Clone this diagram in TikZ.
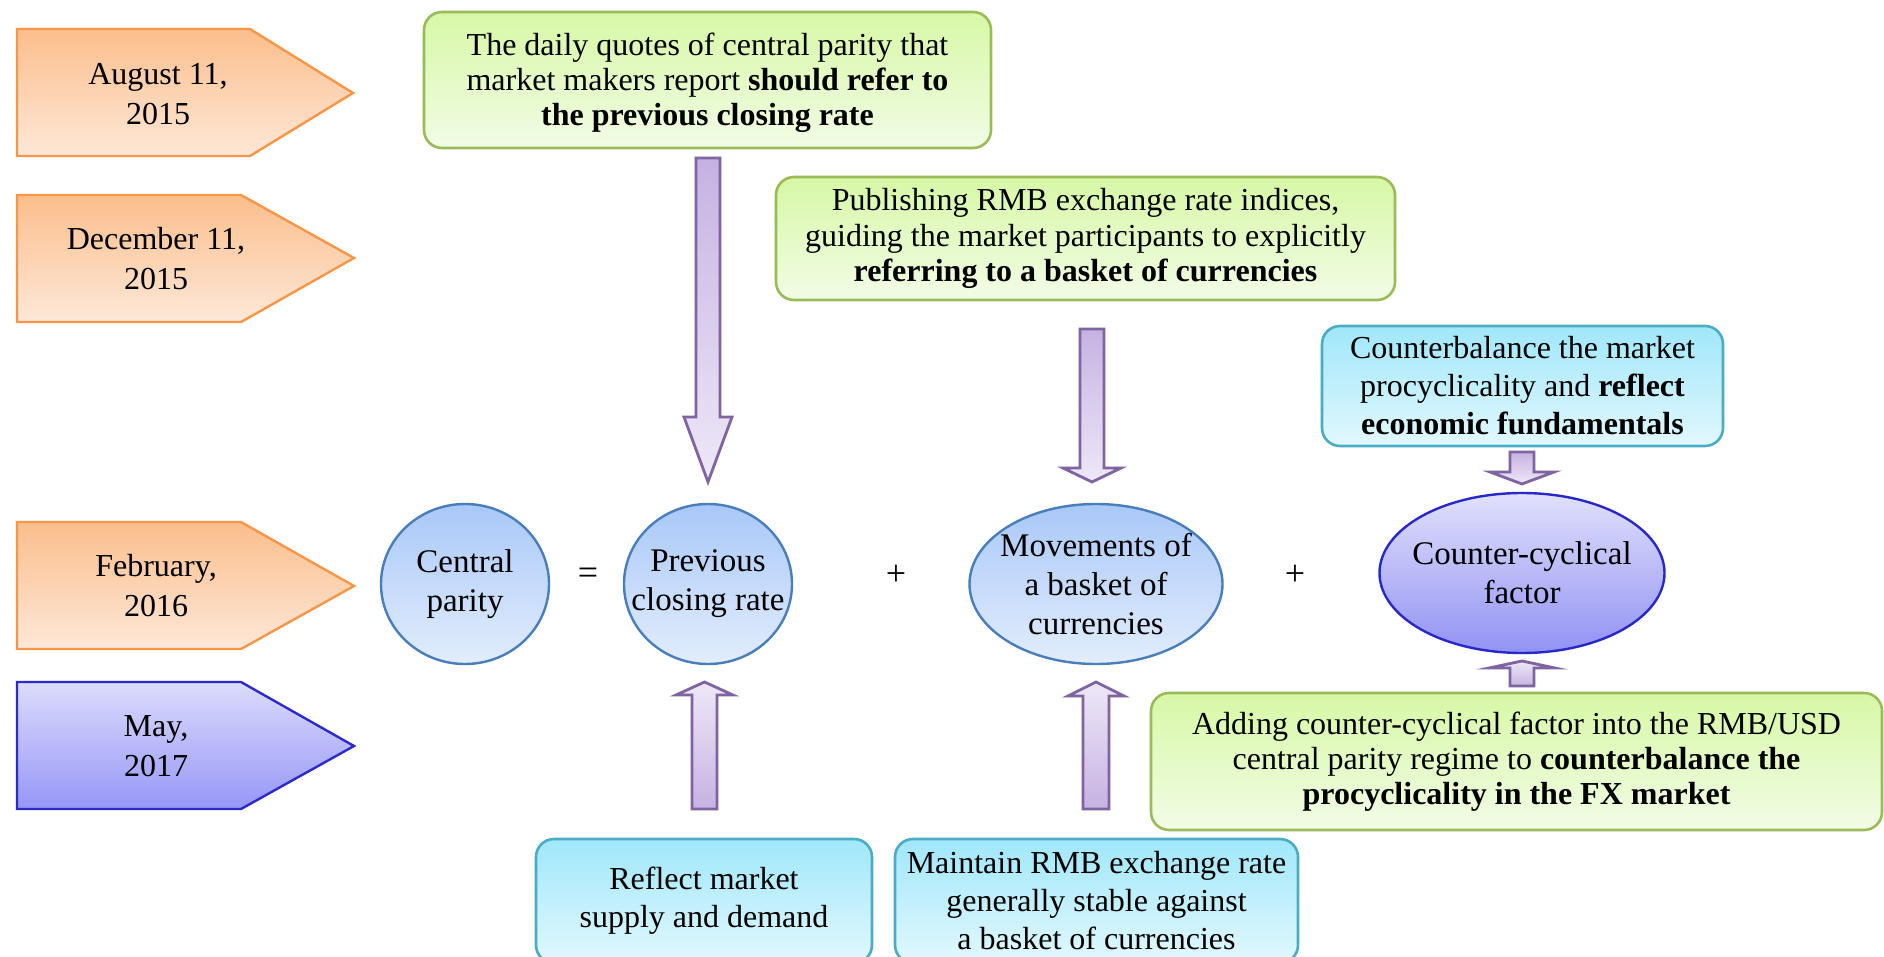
\documentclass[tikz,border=0pt]{standalone}
\usepackage{fontspec}
\setmainfont{Liberation Serif}
\usetikzlibrary{shapes.geometric}
\definecolor{orgB}{HTML}{F79646}
\definecolor{orgT}{HTML}{FBBE8C}
\definecolor{orgL}{HTML}{FDE8D8}
\definecolor{mayB}{HTML}{2B2BCC}
\definecolor{mayT}{HTML}{DCDCFC}
\definecolor{mayL}{HTML}{9696F6}
\definecolor{cirB}{HTML}{4A7EBB}
\definecolor{cirT}{HTML}{A9C8F8}
\definecolor{cirL}{HTML}{E2EDFC}
\definecolor{ccfB}{HTML}{2828C8}
\definecolor{ccfT}{HTML}{E0E0FC}
\definecolor{ccfL}{HTML}{9292F4}
\definecolor{grnB}{HTML}{9BBB59}
\definecolor{grnT}{HTML}{D7F8A6}
\definecolor{grnL}{HTML}{F2FCE6}
\definecolor{cyaB}{HTML}{4BACC6}
\definecolor{cyaT}{HTML}{A0E7FA}
\definecolor{cyaL}{HTML}{E2F8FE}
\definecolor{arrB}{HTML}{8064A2}
\definecolor{arrD}{HTML}{C6B2E2}
\definecolor{arrL}{HTML}{EEE8F7}
\newcommand{\blkdown}[6]{%
  \path[arrdn] (#1,#3) -- (#2,#3) -- (#2,#4) -- ({#2+#5},#4) -- ({(#1+#2)/2},#6) -- ({#1-#5},#4) -- (#1,#4) -- cycle;}
\newcommand{\blkup}[6]{%
  \path[arrup] (#1,#3) -- (#2,#3) -- (#2,#4) -- ({#2+#5},#4) -- ({(#1+#2)/2},#6) -- ({#1-#5},#4) -- (#1,#4) -- cycle;}
\begin{document}
\begin{tikzpicture}[x=0.5pt,y=-0.5pt,
  font=\fontsize{16}{17.6}\selectfont,
  txt/.style={align=center, inner sep=0pt},
  optxt/.style={inner sep=0pt, font=\fontsize{18}{20}\selectfont},
  datetxt/.style={align=center, inner sep=0pt, font=\fontsize{16}{20}\selectfont},
  orgshape/.style={draw=orgB, line width=1.2pt, top color=orgT, bottom color=orgL},
  mayshape/.style={draw=mayB, line width=1.2pt, top color=mayT, bottom color=mayL},
  circshape/.style={ellipse, draw=cirB, line width=1.2pt, top color=cirT, bottom color=cirL, inner sep=0pt},
  ccfshape/.style={ellipse, draw=ccfB, line width=1.2pt, top color=ccfT, bottom color=ccfL, inner sep=0pt},
  gbox/.style={draw=grnB, line width=1.3pt, rounded corners=9pt, top color=grnT, bottom color=grnL, align=center, inner sep=0pt},
  cbox/.style={draw=cyaB, line width=1.3pt, rounded corners=9pt, top color=cyaT, bottom color=cyaL, align=center, inner sep=0pt},
  arrdn/.style={draw=arrB, line width=1.4pt, top color=arrD, bottom color=arrL, miter limit=10},
  arrup/.style={draw=arrB, line width=1.4pt, top color=arrL, bottom color=arrD, miter limit=10}]
\useasboundingbox (0,0) rectangle (1884,957);
\clip (0,0) rectangle (1884,957);
\fill[white] (0,0) rectangle (1884,957);

% date shapes
\path[orgshape] (17,29) -- (250,29) -- (353,93) -- (250,156) -- (17,156) -- cycle;
\node[datetxt] (aug) at (158,94) {August 11,\\2015};
\path[orgshape] (17,195) -- (241,195) -- (354,258) -- (241,322) -- (17,322) -- cycle;
\node[datetxt] (dec) at (156,259) {December 11,\\2015};
\path[orgshape] (17,522) -- (241,522) -- (354,586) -- (241,649) -- (17,649) -- cycle;
\node[datetxt] (feb) at (156,586) {February,\\2016};
\path[mayshape] (17,682) -- (241,682) -- (354,746) -- (241,809) -- (17,809) -- cycle;
\node[datetxt] (may) at (156,746) {May,\\2017};

% equation row
\node[circshape, minimum width=84pt, minimum height=80pt] (cp) at (465,584) {};
\node[txt, font=\fontsize{16.5}{19.5}\selectfont] at (cp) {Central\\parity};
\node[optxt] (eq) at (588,576) {=};
\node[circshape, minimum width=84pt, minimum height=80pt] (prev) at (708,584) {};
\node[txt, font=\fontsize{16.5}{19.5}\selectfont] at (prev) {Previous\\closing rate};
\node[optxt] (p1) at (896,575) {+};
\node[circshape, minimum width=126.5pt, minimum height=80pt] (mov) at (1096,584) {};
\node[txt, font=\fontsize{16.5}{19.5}\selectfont] at (mov) {Movements of\\a basket of\\currencies};
\node[optxt] (p2) at (1295,575) {+};
\node[ccfshape, minimum width=142.5pt, minimum height=80pt] (ccf) at (1522,573) {};
\node[txt, font=\fontsize{16.5}{19.5}\selectfont] at (ccf) {Counter-cyclical\\factor};

% boxes
\node[gbox, minimum width=283.5pt, minimum height=68pt] (g1) at (707.5,80) {};
\node[txt] at ([yshift=-1.5pt]g1.center)
  {The daily quotes of central parity that\\market makers report \textbf{should refer to}\\\textbf{the previous closing rate}};
\node[gbox, minimum width=309.5pt, minimum height=61.5pt] (g2) at (1085.5,238.5)
  {Publishing RMB exchange rate indices,\\guiding the market participants to explicitly\\\textbf{referring to a basket of currencies}};
\node[cbox, minimum width=200.5pt, minimum height=60pt, font=\fontsize{16}{19}\selectfont] (c3) at (1522.5,386)
  {Counterbalance the market\\procyclicality and \textbf{reflect}\\\textbf{economic fundamentals}};
\node[gbox, minimum width=365.5pt, minimum height=68.5pt] (g3) at (1516.5,761.5)
  {Adding counter-cyclical factor into the RMB/USD\\central parity regime to \textbf{counterbalance the}\\\textbf{procyclicality in the FX market}};
\node[cbox, minimum width=168pt, minimum height=62pt, font=\fontsize{16}{19}\selectfont] (c1) at (704,901)
  {Reflect market\\supply and demand};
\node[cbox, minimum width=201.5pt, minimum height=62pt, font=\fontsize{16}{19}\selectfont] (c2) at (1096.5,901)
  {Maintain RMB exchange rate\\generally stable against\\a basket of currencies};

% block arrows
\blkdown{696}{720}{158}{417}{12}{482}
\blkdown{1080}{1104}{329}{468}{17}{482}
\blkdown{1510}{1534}{452}{472}{20}{484}
\blkup{692}{717}{809}{695}{16}{682}
\blkup{1083}{1109}{809}{696}{15}{682}
\blkup{1510}{1534}{686}{668}{21}{661}
\end{tikzpicture}
\end{document}
